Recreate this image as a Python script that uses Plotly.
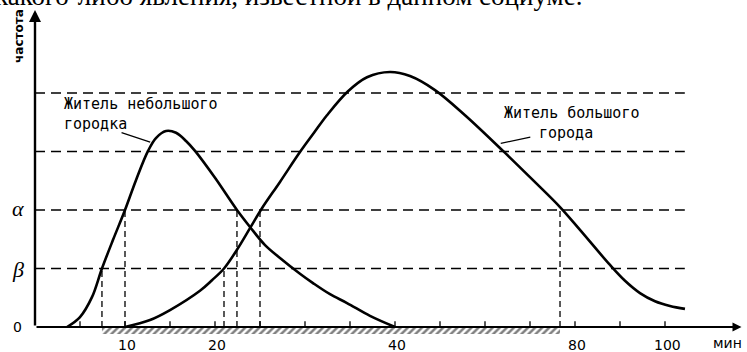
import numpy as np
import plotly.graph_objects as go

# ---- data (x in minutes, y in frequency units where beta = 1, alpha = 2) ----
small_min = [3.56, 5.0, 6.33, 7.44, 8.67, 10.0, 11.22, 12.56, 13.44, 14.56, 15.67, 16.78,
             17.78, 20.0, 22.44, 23.89, 25.56, 27.22, 29.44, 30.89, 32.78, 34.67, 37.22, 40.0]
small_freq = [0.0, 0.17, 0.51, 1.0, 1.49, 2.0, 2.51, 3.01, 3.23, 3.35, 3.32, 3.18,
              3.01, 2.55, 2.0, 1.71, 1.40, 1.18, 0.91, 0.75, 0.56, 0.41, 0.19, 0.0]

big_min = [10.0, 12.78, 15.0, 18.33, 19.67, 21.0, 22.44, 23.89, 25.22, 27.22, 29.44, 31.0,
           32.44, 34.78, 36.89, 39.44, 43.33, 48.89, 55.56, 64.0, 70.67, 76.67, 81.11, 87.78,
           91.11, 94.44, 97.78, 101.11, 104.44]
big_freq = [0.0, 0.12, 0.29, 0.62, 0.80, 1.0, 1.32, 1.69, 2.03, 2.48, 2.99, 3.32,
            3.62, 4.03, 4.27, 4.36, 4.29, 4.05, 3.62, 3.01, 2.51, 2.05, 1.66, 1.06,
            0.79, 0.58, 0.44, 0.36, 0.31]

level_values = [1, 2, 3, 4]          # beta, alpha, and two upper reference levels
level_end_min = 104.4

drop_min = [7.44, 10.0, 21.0, 22.44, 25.0, 76.67]   # vertical dashed drops
drop_level = [1, 2, 1, 2, 2, 2]

hatch_from, hatch_to = 7.44, 76.67

tick_min = [5, 10, 15, 20, 25, 30, 35, 40, 50, 60, 70, 80, 90, 100]
label_min = [10, 20, 40, 80, 100]
label_text = ["10", "20", "40", "80", "100"]

# piecewise axis scale of the original: 5 min per unit up to 40, then 10 min per unit
scale_min = [0, 40, 120]
scale_u = [0, 8, 16]


def to_u(m):
    return np.interp(np.asarray(m, dtype=float), scale_min, scale_u)


fig = go.Figure()

# hatch under the axis
hx0, hx1 = float(to_u(hatch_from)), float(to_u(hatch_to))
fig.add_trace(go.Scatter(
    x=[hx0, hx1, hx1, hx0, hx0], y=[0, 0, -0.12, -0.12, 0], mode="lines",
    fill="toself", fillcolor="white", line=dict(width=0),
    fillpattern=dict(shape="/", size=5, solidity=0.5, fgcolor="black", bgcolor="white"),
    hoverinfo="skip", showlegend=False))

# horizontal dashed levels
hx, hy = [], []
for lv in level_values:
    hx += [0, float(to_u(level_end_min)), None]
    hy += [lv, lv, None]
fig.add_trace(go.Scatter(x=hx, y=hy, mode="lines",
                         line=dict(color="black", width=1.4, dash="10px,6px"),
                         hoverinfo="skip", showlegend=False))

# vertical dashed drops
vx, vy = [], []
for m, lv in zip(drop_min, drop_level):
    u = float(to_u(m))
    vx += [u, u, None]
    vy += [0, lv, None]
fig.add_trace(go.Scatter(x=vx, y=vy, mode="lines",
                         line=dict(color="black", width=1.3, dash="6px,4px"),
                         hoverinfo="skip", showlegend=False))

# curves
fig.add_trace(go.Scatter(x=to_u(small_min), y=small_freq, mode="lines",
                         line=dict(color="black", width=2.6, shape="spline", smoothing=1.0),
                         name="Житель небольшого городка", showlegend=False))
fig.add_trace(go.Scatter(x=to_u(big_min), y=big_freq, mode="lines",
                         line=dict(color="black", width=2.6, shape="spline", smoothing=1.0),
                         name="Житель большого города", showlegend=False))

# ticks on x axis
tx, ty = [], []
for m in tick_min:
    u = float(to_u(m))
    tx += [u, u, None]
    ty += [0, 0.1, None]
fig.add_trace(go.Scatter(x=tx, y=ty, mode="lines", line=dict(color="black", width=1.3),
                         hoverinfo="skip", showlegend=False))

# axis lines with arrows
fig.add_annotation(x=15.7, y=0, ax=0, ay=0, xref="x", yref="y", axref="x", ayref="y",
                   text="", showarrow=True, arrowhead=2, arrowsize=1, arrowwidth=1.8,
                   arrowcolor="black")
fig.add_annotation(x=0, y=5.42, ax=0, ay=0, xref="x", yref="y", axref="x", ayref="y",
                   text="", showarrow=True, arrowhead=2, arrowsize=1, arrowwidth=2.4,
                   arrowcolor="black")

tick_font = dict(family="DejaVu Sans", size=14, color="black")
for m, t in zip(label_min, label_text):
    fig.add_annotation(x=float(to_u(m)) + 0.05, y=-0.3, text=t, showarrow=False, font=tick_font)
fig.add_annotation(x=15.38, y=-0.28, text="мин", showarrow=False, font=tick_font)
fig.add_annotation(x=-0.38, y=0, text="0", showarrow=False, font=tick_font)

greek_font = dict(family="Liberation Serif", size=22, color="black")
fig.add_annotation(x=-0.38, y=2.03, text="<i>α</i>", showarrow=False, font=greek_font)
fig.add_annotation(x=-0.38, y=0.98, text="<i>β</i>", showarrow=False, font=greek_font)

fig.add_annotation(x=-0.34, y=4.97, text="<b>частота</b>", textangle=-90, showarrow=False,
                   font=dict(family="DejaVu Sans", size=12, color="black"))

lab_font = dict(family="DejaVu Sans Mono", size=15, color="black")
fig.add_annotation(x=0.6, y=3.82, text="Житель небольшого", xanchor="left",
                   showarrow=False, font=lab_font)
fig.add_annotation(x=0.6, y=3.47, text="городка", xanchor="left",
                   showarrow=False, font=lab_font)
fig.add_annotation(x=2.56, y=3.16, ax=1.89, ay=3.33, xref="x", yref="y", axref="x",
                   ayref="y", text="", showarrow=True, arrowhead=0, arrowwidth=1.2,
                   arrowcolor="black")
fig.add_annotation(x=10.38, y=3.66, text="Житель большого", xanchor="left",
                   showarrow=False, font=lab_font)
fig.add_annotation(x=11.16, y=3.31, text="города", xanchor="left",
                   showarrow=False, font=lab_font)
fig.add_annotation(x=10.35, y=3.14, ax=11.04, ay=3.25, xref="x", yref="y", axref="x",
                   ayref="y", text="", showarrow=True, arrowhead=0, arrowwidth=1.2,
                   arrowcolor="black")

# cut-off line of book text at the top
fig.add_annotation(x=584 / 747, y=1 - 13 / 352, xref="paper", yref="paper", xanchor="right",
                   yanchor="bottom", text="какого-либо явления, известной в данном социуме.",
                   showarrow=False,
                   font=dict(family="Liberation Serif", size=27, color="black"))

fig.update_layout(
    width=747, height=352, margin=dict(l=0, r=0, t=0, b=0),
    paper_bgcolor="white", plot_bgcolor="white", showlegend=False,
    xaxis=dict(visible=False, range=[-35 / 45, 712 / 45], fixedrange=True),
    yaxis=dict(visible=False, range=[-25 / 58.5, 327 / 58.5], fixedrange=True),
)

fig.write_html("out.html", config={"displayModeBar": False},
               post_script="document.body.style.margin='0px';")
